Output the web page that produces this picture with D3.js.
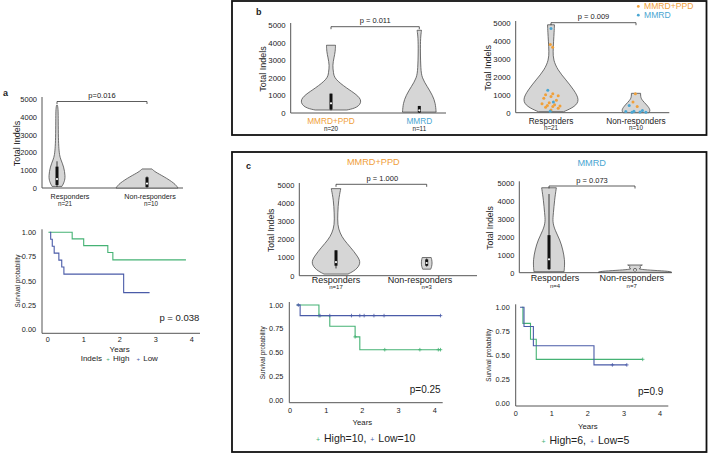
<!DOCTYPE html>
<html><head><meta charset="utf-8">
<script src="https://cdn.jsdelivr.net/npm/d3@7"></script>
<style>
body{margin:0;background:#fff}
svg{display:block}
text{font-family:"Liberation Sans",Arial,Helvetica,sans-serif;fill:#222}
</style>
</head><body>
<svg id="chart" width="708" height="462"></svg>
<script>
// ---------------- DATA ----------------
const respGroups = ["Responders", "Non-responders"];
const typeGroups = ["MMRD+PPD", "MMRD"];
const indelTicks = [0, 1000, 2000, 3000, 4000, 5000];
const survTicks = [0, 0.25, 0.5, 0.75, 1];
const yearTicks = [0, 1, 2, 3, 4];

// panel a : violin (value, relative density %)
const aCounts = [21, 10];
const aRespProfile = [[90,16],[350,24],[650,27],[1200,22],[1600,12],[1850,8],[2300,5.5],[3000,4.2],[4000,3.9],[4450,3.5],[4650,1.5]];
const aNonProfile = [[0,100],[250,90],[650,54],[900,26],[1070,16]];
const aBoxStats = [[170,500,1200,60,1500],[50,250,600,20,650]]; // q1, median, q3, low, high
const aPValue = "p=0.016";

// panel a : Kaplan-Meier (Indels High / Low)
const aHighTimes = [0.02, 0.68, 1.0, 1.67, 1.81];
const aHighSurv  = [1, 0.932, 0.863, 0.792, 0.717];
const aHighEnd = 3.84;
const aLowTimes = [0.06, 0.083, 0.127, 0.18, 0.31, 0.39, 0.45, 2.11];
const aLowSurv  = [1, 0.929, 0.857, 0.786, 0.714, 0.643, 0.571, 0.381];
const aLowEnd = 2.83;
const aKmP = "p = 0.038";

// panel b left : MMRD+PPD vs MMRD
const bCounts = [20, 11];
const bPpdProfile = [[170,50],[300,84],[680,99],[1050,81],[1400,50],[1950,10.4],[2300,7.9],[2700,4.7],[3150,9.5],[3500,13.6],[3850,14.2]];
const bMmrdProfile = [[50,53],[550,51],[1000,42],[1500,25],[2000,8],[2500,4.7],[3500,3.2],[4300,3.8],[4700,7]];
const bBoxStats = [[200,550,1100,150,1100],[30,150,400,0,400]];
const bPValueLeft = "p = 0.011";

// panel b right : Responders vs Non-responders with points
const bRespCounts = [21, 10];
const bRespProfile = [[55,44],[335,84],[710,100],[1270,80],[1830,52],[2385,23],[2945,8],[3400,7],[4000,9],[4500,11],[4900,12]];
const bNonProfile = [[0,45],[150,51],[430,38],[710,20],[900,16],[1080,16]];
const bRespPpdValues = [3800, 3650, 1050, 1000, 950, 900, 800, 700, 550, 500, 450, 400, 380, 350, 300, 250, 150];
const bRespMmrdValues = [4700, 1250, 600, 80];
const bNonPpdValues = [1050, 600, 350];
const bNonMmrdValues = [400, 120, 80, 60, 40, 30, 20];
const bPValueRight = "p = 0.009";

// panel c top left : MMRD+PPD
const cPpdCounts = [17, 3];
const cPpdRespProfile = [[90,48],[315,80],[690,100],[1050,88],[1600,56],[1970,32],[2340,16],[2800,6],[3450,7],[4180,10],[4800,19]];
const cPpdNonProfile = [[360,16],[500,20],[700,22],[900,20],[1000,18]];
const cPpdBoxStats = [[550,750,1400,400,1400],[550,700,900,500,950]];
const cPpdPValue = "p = 1.000";

// panel c top right : MMRD
const cMmrdCounts = [4, 7];
const cMmrdRespProfile = [[55,41],[245,42],[710,43],[1270,38],[1830,30],[2385,16],[2850,9.5],[3320,12],[4060,15],[4750,20]];
const cMmrdNonProfile = [[20,100],[80,95],[130,50],[180,17],[230,8],[280,20],[330,10],[430,20]];
const cMmrdBoxStats = [[200,750,2100,150,4400],[100,150,220,60,260]];
const cMmrdPValue = "p = 0.073";

// panel c bottom left : KM MMRD+PPD
const cPpdHighTimes = [0.185, 0.80, 1.10, 1.80, 1.93];
const cPpdHighSurv  = [1, 0.889, 0.778, 0.667, 0.533];
const cPpdHighEnd = 4.16;
const cPpdHighCensor = [0.80, 1.80, 2.62, 3.59, 4.10, 4.16];
const cPpdLowTimes = [0.185, 0.28];
const cPpdLowSurv  = [1, 0.889];
const cPpdLowEnd = 4.16;
const cPpdLowCensor = [0.23, 0.83, 1.10, 1.70, 1.93, 2.05, 2.32, 2.60, 4.16];
const cPpdLegend = ["High=10,", "Low=10"];
const cPpdKmP = "p=0.25";

// panel c bottom right : KM MMRD
const cMmrdHighTimes = [0.17, 0.20, 0.41, 0.57];
const cMmrdHighSurv  = [1, 0.833, 0.667, 0.458];
const cMmrdHighEnd = 3.52;
const cMmrdHighCensor = [3.52];
const cMmrdLowTimes = [0.12, 0.23, 0.49, 2.17];
const cMmrdLowSurv  = [1, 0.8, 0.6, 0.4];
const cMmrdLowEnd = 3.08;
const cMmrdLowCensor = [2.68, 3.08];
const cMmrdLegend = ["High=6,", "Low=5"];
const cMmrdKmP = "p=0.9";

// ---------------- STYLE ----------------
const ORANGE = "#f0a03a", LBLUE = "#4aa6d2", KGREEN = "#45b274", KBLUE = "#4a5ba8";
const VFILL = "#d6d6d6", VSTROKE = "#4d4d4d", AX = "#555";

const svg = d3.select("#chart");

function txt(g, x, y, s, size, opts = {}) {
  const t = g.append("text").attr("x", x).attr("y", y).attr("dy", "0.35em")
    .attr("font-size", size).attr("text-anchor", opts.anchor || "middle").text(s);
  if (opts.fill) t.style("fill", opts.fill);
  if (opts.weight) t.attr("font-weight", opts.weight);
  if (opts.rotate) t.attr("transform", `rotate(-90,${x},${y})`);
  return t;
}

// ---------------- VIOLIN PANELS ----------------
function violinPanel(cfg) {
  const g = svg.append("g");
  const y = d3.scaleLinear().domain([0, 5000]).range([cfg.y0, cfg.y5]);
  const x = d3.scalePoint().domain(cfg.cats).range(cfg.centers);
  const w = d3.scaleLinear().domain([0, 100]).range([0, cfg.maxHalf]);
  const ax = d3.axisLeft(y).tickValues(indelTicks).tickSize(0).tickPadding(5).tickFormat(d3.format("d"));
  const axg = g.append("g").attr("transform", `translate(${cfg.axisX},0)`).call(ax);
  axg.select(".domain").attr("stroke", AX).attr("stroke-width", 1).attr("d", `M0,${cfg.y5 - 2}V${cfg.y0}`);
  axg.selectAll("text").attr("font-size", cfg.tickSize).style("fill", "#222").attr("font-family", null);
  g.append("line").attr("x1", cfg.axisX).attr("x2", cfg.axisEnd).attr("y1", cfg.y0).attr("y2", cfg.y0)
    .attr("stroke", AX).attr("stroke-width", 1);
  txt(g, cfg.ylabX, (cfg.y0 + cfg.y5) / 2, "Total Indels", cfg.ylabSize, {rotate: true});
  const area = d3.area().curve(d3.curveBasis).y(d => y(d[0]));
  cfg.profiles.forEach((p, i) => {
    const cx = x(cfg.cats[i]);
    area.x0(d => cx - w(d[1])).x1(d => cx + w(d[1]));
    g.append("path").attr("d", area(p)).attr("fill", VFILL).attr("stroke", VSTROKE).attr("stroke-width", 0.8);
  });
  if (cfg.boxes) cfg.boxes.forEach((b, i) => {
    const cx = x(cfg.cats[i]);
    g.append("line").attr("x1", cx).attr("x2", cx).attr("y1", y(b[3])).attr("y2", y(b[4]))
      .attr("stroke", "#111").attr("stroke-width", 0.8);
    g.append("rect").attr("x", cx - 1.5).attr("width", 3).attr("y", y(b[2])).attr("height", y(b[0]) - y(b[2]))
      .attr("fill", "#111");
    g.append("circle").attr("cx", cx).attr("cy", y(b[1])).attr("r", 1.1).attr("fill", "#fff");
  });
  if (cfg.points) cfg.points.forEach(set => {
    const cx = x(cfg.cats[set.cat]);
    const prof = cfg.profiles[set.cat];
    const halfAt = v => {
      const ys = prof.map(d => d[0]);
      const i = Math.max(1, Math.min(prof.length - 1, d3.bisectLeft(ys, v)));
      const a = prof[i - 1], b = prof[i];
      const t = Math.max(0, Math.min(1, (v - a[0]) / (b[0] - a[0] || 1)));
      return w(a[1] + (b[1] - a[1]) * t);
    };
    set.values.forEach((v, k) => {
      const frac = (((k * 7 + set.seed) % 11) / 10) - 0.5;
      const jit = frac * 2 * Math.min(halfAt(v) * 0.75, set.spread);
      g.append("circle").attr("cx", cx + jit).attr("cy", y(v)).attr("r", 1.5).attr("fill", set.color);
    });
  });
  const bx1 = x(cfg.cats[0]), bx2 = x(cfg.cats[1]);
  g.append("path").attr("d", `M${bx1},${cfg.bracketY + 2.5}V${cfg.bracketY}H${bx2}V${cfg.bracketY + 2.5}`)
    .attr("fill", "none").attr("stroke", "#333").attr("stroke-width", 0.8);
  txt(g, (bx1 + bx2) / 2 + (cfg.pDx || 0), cfg.bracketY - 6, cfg.p, cfg.pSize);
  cfg.cats.forEach((c, i) => {
    const cx = x(c);
    txt(g, cx + cfg.labDx[i], cfg.y0 + cfg.labGap, cfg.labels[i], cfg.labSize, cfg.labColors ? {fill: cfg.labColors[i]} : {});
    txt(g, cx + cfg.nDx[i], cfg.y0 + cfg.nGap, "n=" + cfg.counts[i], cfg.nSize);
  });
  return g;
}

violinPanel({
  cats: respGroups, labels: respGroups, counts: aCounts,
  axisX: 42, axisEnd: 183, y0: 188, y5: 99, centers: [57, 147], maxHalf: 31,
  profiles: [aRespProfile, aNonProfile], boxes: aBoxStats,
  tickSize: 7.5, ylabX: 17, ylabSize: 9,
  bracketY: 101.5, p: aPValue, pSize: 7.5,
  labGap: 8.5, nGap: 15.5, labSize: 7.2, nSize: 6.3, labDx: [13, 3], nDx: [8, 4]
});

violinPanel({
  cats: typeGroups, labels: typeGroups, counts: bCounts, labColors: [ORANGE, LBLUE],
  axisX: 290.7, axisEnd: 446, y0: 113, y5: 25, centers: [331, 419.3], maxHalf: 31.7,
  profiles: [bPpdProfile, bMmrdProfile], boxes: bBoxStats,
  tickSize: 7.8, ylabX: 262.7, ylabSize: 9,
  bracketY: 26.7, p: bPValueLeft, pSize: 7.5,
  labGap: 8, nGap: 15.5, labSize: 8.3, nSize: 6.3, labDx: [0, 0], nDx: [0, 0]
});

violinPanel({
  cats: respGroups, labels: respGroups, counts: bRespCounts,
  axisX: 515.7, axisEnd: 669.3, y0: 112.7, y5: 23, centers: [551, 636], maxHalf: 28.7,
  profiles: [bRespProfile, bNonProfile],
  points: [
    {cat: 0, values: bRespPpdValues, color: ORANGE, seed: 3, spread: 9},
    {cat: 0, values: bRespMmrdValues, color: LBLUE, seed: 5, spread: 4},
    {cat: 1, values: bNonPpdValues, color: ORANGE, seed: 4, spread: 3},
    {cat: 1, values: bNonMmrdValues, color: LBLUE, seed: 1, spread: 14}
  ],
  tickSize: 7.8, ylabX: 487.7, ylabSize: 9,
  bracketY: 22.7, p: bPValueRight, pSize: 7.5,
  labGap: 8, nGap: 15.5, labSize: 8.3, nSize: 6.3, labDx: [0, 0], nDx: [0, 0]
});

{
  const g = svg.append("g");
  typeGroups.forEach((t, i) => {
    const c = i === 0 ? ORANGE : LBLUE;
    g.append("circle").attr("cx", 638.3).attr("cy", 6.4 + i * 8.8).attr("r", 1.4).attr("fill", c);
    txt(g, 644, 6.4 + i * 8.8, t, 8.6, {anchor: "start", fill: c});
  });
}

violinPanel({
  cats: respGroups, labels: respGroups, counts: cPpdCounts,
  axisX: 299.3, axisEnd: 477, y0: 275.7, y5: 185, centers: [336, 426.7], maxHalf: 25,
  profiles: [cPpdRespProfile, cPpdNonProfile], boxes: cPpdBoxStats,
  tickSize: 7.5, ylabX: 270.7, ylabSize: 8.6,
  bracketY: 184.3, p: cPpdPValue, pSize: 7.5, pDx: 1,
  labGap: 4.6, nGap: 11.6, labSize: 9, nSize: 6, labDx: [0, -6.7], nDx: [0, 0]
});
txt(svg, 373.3, 161.7, typeGroups[0], 9.2, {fill: ORANGE});

violinPanel({
  cats: respGroups, labels: respGroups, counts: cMmrdCounts,
  axisX: 519.3, axisEnd: 671.7, y0: 272.7, y5: 183.3, centers: [549, 635], maxHalf: 36.7,
  profiles: [cMmrdRespProfile, cMmrdNonProfile], boxes: cMmrdBoxStats,
  tickSize: 7.5, ylabX: 490, ylabSize: 8.6,
  bracketY: 186, p: cMmrdPValue, pSize: 7.5,
  labGap: 5.2, nGap: 13.5, labSize: 9, nSize: 6, labDx: [6, -3.3], nDx: [6, -3.3]
});
txt(svg, 591.7, 162.7, typeGroups[1], 9.2, {fill: LBLUE});

// ---------------- KM PANELS ----------------
function kmPanel(cfg) {
  const g = svg.append("g");
  const x = d3.scaleLinear().domain([0, 4]).range([cfg.x0, cfg.x4]);
  const y = d3.scaleLinear().domain([0, 1]).range([cfg.yb, cfg.yt]);
  g.append("path").attr("d", `M${cfg.axisX},${cfg.yt - 3}V${cfg.axisY}H${cfg.axisEnd}`)
    .attr("fill", "none").attr("stroke", AX).attr("stroke-width", 1);
  survTicks.forEach(t => txt(g, cfg.axisX - 6, y(t), d3.format(".2f")(t), cfg.tickSize, {anchor: "end"}));
  yearTicks.forEach(t => txt(g, x(t), cfg.axisY + cfg.tickGap, String(t), cfg.tickSize));
  txt(g, cfg.ylabX, (cfg.yt + cfg.yb) / 2, "Survival probability", cfg.ylabSize, {rotate: true});
  txt(g, (cfg.x0 + cfg.x4) / 2, cfg.axisY + cfg.yearsGap, "Years", cfg.yearsSize);
  const line = d3.line().curve(d3.curveStepAfter).x(d => x(d[0])).y(d => y(d[1]));
  cfg.curves.forEach(c => {
    const pts = c.times.map((t, i) => [t, c.surv[i]]);
    pts.push([c.end, c.surv[c.surv.length - 1]]);
    g.append("path").attr("d", line(pts)).attr("fill", "none").attr("stroke", c.color).attr("stroke-width", 1.1);
    (c.censor || []).forEach(t => {
      let s = 1;
      c.times.forEach((tt, i) => { if (tt <= t) s = c.surv[i]; });
      const px = x(t), py = y(s);
      g.append("path").attr("d", `M${px},${py - 1.8}V${py + 1.8}M${px - 1.8},${py}H${px + 1.8}`)
        .attr("stroke", c.color).attr("stroke-width", 0.8);
    });
  });
  txt(g, cfg.pX, cfg.pY, cfg.p, cfg.pSize, {anchor: "end"});
  return g;
}

kmPanel({
  x0: 47.7, x4: 191.7, yt: 232.3, yb: 329.7, axisX: 42, axisY: 333.3, axisEnd: 200,
  tickSize: 7.3, tickGap: 6, ylabX: 18, ylabSize: 6.3, yearsGap: 16, yearsSize: 8,
  curves: [
    {times: aHighTimes, surv: aHighSurv, end: aHighEnd, color: KGREEN},
    {times: aLowTimes, surv: aLowSurv, end: aLowEnd, color: KBLUE}
  ],
  p: aKmP, pX: 199.3, pY: 318, pSize: 9.5
});
{
  const t = svg.append("text").attr("x", 80.7).attr("y", 358.5).attr("dy", "0.35em").attr("font-size", 8);
  t.append("tspan").text("Indels ");
  t.append("tspan").text("+").style("fill", KGREEN).attr("font-size", 6).attr("dx", 2);
  t.append("tspan").text(" High").attr("dx", 1);
  t.append("tspan").text("+").style("fill", KBLUE).attr("font-size", 6).attr("dx", 7);
  t.append("tspan").text(" Low").attr("dx", 1);
}

kmPanel({
  x0: 290, x4: 434.7, yt: 305, yb: 400.7, axisX: 289.3, axisY: 402.7, axisEnd: 442.7,
  tickSize: 7.3, tickGap: 7.5, ylabX: 263.3, ylabSize: 6.3, yearsGap: 20, yearsSize: 7.8,
  curves: [
    {times: cPpdHighTimes, surv: cPpdHighSurv, end: cPpdHighEnd, censor: cPpdHighCensor, color: KGREEN},
    {times: cPpdLowTimes, surv: cPpdLowSurv, end: cPpdLowEnd, censor: cPpdLowCensor, color: KBLUE}
  ],
  p: cPpdKmP, pX: 440.7, pY: 389.3, pSize: 10
});
kmPanel({
  x0: 515.7, x4: 660, yt: 307.3, yb: 403.3, axisX: 515.7, axisY: 406, axisEnd: 668.3,
  tickSize: 7.3, tickGap: 7, ylabX: 489, ylabSize: 6.3, yearsGap: 20, yearsSize: 7.8,
  curves: [
    {times: cMmrdHighTimes, surv: cMmrdHighSurv, end: cMmrdHighEnd, censor: cMmrdHighCensor, color: KGREEN},
    {times: cMmrdLowTimes, surv: cMmrdLowSurv, end: cMmrdLowEnd, censor: cMmrdLowCensor, color: KBLUE}
  ],
  p: cMmrdKmP, pX: 663.3, pY: 391.7, pSize: 10
});
function kmLegend(x, y, labels) {
  const t = svg.append("text").attr("x", x).attr("y", y).attr("dy", "0.35em").attr("font-size", 10.5);
  t.append("tspan").text("+").style("fill", KGREEN).attr("font-size", 7);
  t.append("tspan").text(" " + labels[0]).attr("dx", 1);
  t.append("tspan").text("+").style("fill", KBLUE).attr("font-size", 7).attr("dx", 4);
  t.append("tspan").text(" " + labels[1]).attr("dx", 1);
}
kmLegend(316, 438.3, cPpdLegend);
kmLegend(541.5, 440, cMmrdLegend);

// ---------------- FRAMES & PANEL LETTERS ----------------
svg.append("rect").attr("x", 232).attr("y", 1).attr("width", 474.5).attr("height", 134)
  .attr("fill", "none").attr("stroke", "#111").attr("stroke-width", 1.8);
svg.append("rect").attr("x", 232).attr("y", 152).attr("width", 474.5).attr("height", 300)
  .attr("fill", "none").attr("stroke", "#111").attr("stroke-width", 1.8);
txt(svg, 3, 93, "a", 9, {anchor: "start", weight: "bold"});
txt(svg, 256, 12, "b", 9, {anchor: "start", weight: "bold"});
txt(svg, 246, 166, "c", 9, {anchor: "start", weight: "bold"});
</script>
</body></html>
